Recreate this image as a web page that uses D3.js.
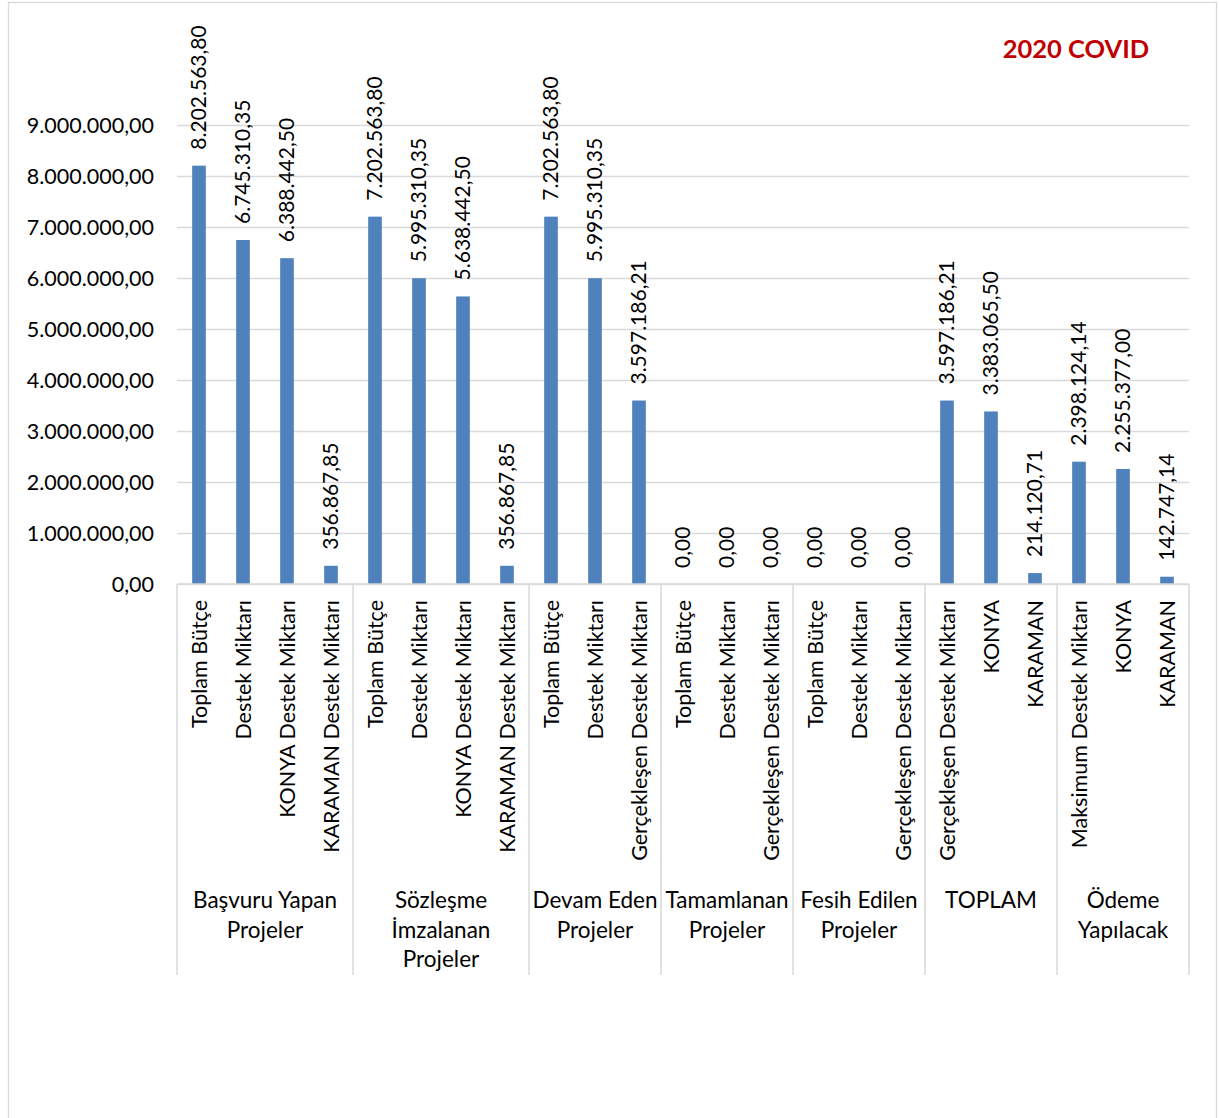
<!DOCTYPE html>
<html>
<head>
<meta charset="utf-8">
<script src="https://cdn.jsdelivr.net/npm/d3@7"></script>
<style>
  html, body { margin: 0; padding: 0; background: #fff; }
  svg { display: block; }
  text { font-family: Lato, "Open Sans", sans-serif; fill: #000; }
</style>
</head>
<body>
<svg id="chart" width="1219" height="1118"></svg>
<script>
// Group headings (second axis level) and how many bars each holds
const groupNames = [
  ["Başvuru Yapan", "Projeler"],
  ["Sözleşme", "İmzalanan", "Projeler"],
  ["Devam Eden", "Projeler"],
  ["Tamamlanan", "Projeler"],
  ["Fesih Edilen", "Projeler"],
  ["TOPLAM"],
  ["Ödeme", "Yapılacak"]
];
const groupSizes = [4, 4, 3, 3, 3, 3, 3];

// Bar labels (first axis level)
const categoryLabels = [
  "Toplam Bütçe", "Destek Miktarı", "KONYA Destek Miktarı", "KARAMAN Destek Miktarı",
  "Toplam Bütçe", "Destek Miktarı", "KONYA Destek Miktarı", "KARAMAN Destek Miktarı",
  "Toplam Bütçe", "Destek Miktarı", "Gerçekleşen Destek Miktarı",
  "Toplam Bütçe", "Destek Miktarı", "Gerçekleşen Destek Miktarı",
  "Toplam Bütçe", "Destek Miktarı", "Gerçekleşen Destek Miktarı",
  "Gerçekleşen Destek Miktarı", "KONYA", "KARAMAN",
  "Maksimum Destek Miktarı", "KONYA", "KARAMAN"
];

// Amounts (TL)
const values = [
  8202563.80, 6745310.35, 6388442.50, 356867.85,
  7202563.80, 5995310.35, 5638442.50, 356867.85,
  7202563.80, 5995310.35, 3597186.21,
  0.00, 0.00, 0.00,
  0.00, 0.00, 0.00,
  3597186.21, 3383065.50, 214120.71,
  2398124.14, 2255377.00, 142747.14
];

const yTicks = [0, 1e6, 2e6, 3e6, 4e6, 5e6, 6e6, 7e6, 8e6, 9e6];
const chartTitle = "2020 COVID";

// Turkish number format: 1.234.567,89
const trLocale = d3.formatLocale({ decimal: ",", thousands: ".", grouping: [3], currency: ["", " TL"] });
const fmt = trLocale.format(",.2f");

const svg = d3.select("#chart");
const W = 1219, H = 1118;

// outer frame
svg.append("rect")
  .attr("x", 8.5).attr("y", 2.5)
  .attr("width", 1208).attr("height", H + 10)
  .attr("fill", "none").attr("stroke", "#d9d9d9").attr("stroke-width", 1.3);

const plot = { left: 177, right: 1189, top: 125, bottom: 584 };
const gridColor = "#d9d9d9";

const x = d3.scaleBand()
  .domain(d3.range(values.length))
  .range([plot.left, plot.right])
  .paddingInner(0).paddingOuter(0);

const y = d3.scaleLinear()
  .domain([0, 9e6])
  .range([plot.bottom, plot.top]);

// y axis: gridlines + labels
const yAxis = d3.axisLeft(y)
  .tickValues(yTicks)
  .tickSize(-(plot.right - plot.left))
  .tickPadding(23)
  .tickFormat(fmt);

const gy = svg.append("g")
  .attr("transform", `translate(${plot.left},0)`)
  .call(yAxis);
gy.select(".domain").remove();
gy.selectAll(".tick line").attr("stroke", gridColor).attr("stroke-width", 1.5);
gy.selectAll(".tick text")
  .style("font-size", "21.5px")
  .attr("fill", "#000")
  .attr("dy", "0.36em");

// bars
const barW = x.bandwidth() * 0.31;
svg.append("g").selectAll("rect")
  .data(values)
  .join("rect")
  .attr("x", (d, i) => x(i) + (x.bandwidth() - barW) / 2)
  .attr("y", d => y(d))
  .attr("width", barW)
  .attr("height", d => y(0) - y(d))
  .attr("fill", "#4f81bd");

// value labels, rotated, above each bar
svg.append("g").selectAll("text")
  .data(values)
  .join("text")
  .attr("transform", (d, i) => `translate(${x(i) + x.bandwidth() / 2 + 7},${y(d) - 16}) rotate(-90)`)
  .attr("text-anchor", "start")
  .style("font-size", "21px")
  .text(d => fmt(d));

// category axis line
svg.append("line")
  .attr("x1", plot.left).attr("x2", plot.right)
  .attr("y1", plot.bottom).attr("y2", plot.bottom)
  .attr("stroke", gridColor).attr("stroke-width", 1.5);

// group boundaries
let start = 0;
const bounds = [0];
groupSizes.forEach(n => { start += n; bounds.push(start); });
svg.append("g").selectAll("line")
  .data(bounds)
  .join("line")
  .attr("x1", b => b < values.length ? x(b) : plot.right)
  .attr("x2", b => b < values.length ? x(b) : plot.right)
  .attr("y1", plot.bottom).attr("y2", 975)
  .attr("stroke", gridColor).attr("stroke-width", 1.5);

// category labels (rotated)
svg.append("g").selectAll("text")
  .data(categoryLabels)
  .join("text")
  .attr("transform", (d, i) => `translate(${x(i) + x.bandwidth() / 2 + 7.5},600) rotate(-90)`)
  .attr("text-anchor", "end")
  .style("font-size", "21.5px")
  .text(d => d);

// group labels
const gl = svg.append("g").selectAll("text")
  .data(groupNames)
  .join("text")
  .attr("text-anchor", "middle")
  .style("font-size", "22.5px")
  .attr("x", (d, gi) => {
    const a = x(bounds[gi]);
    const b = bounds[gi + 1] < values.length ? x(bounds[gi + 1]) : plot.right;
    return (a + b) / 2;
  })
  .attr("y", 908);
gl.selectAll("tspan")
  .data((d, gi) => d.map(line => ({ line, gi })))
  .join("tspan")
  .attr("x", function () { return d3.select(this.parentNode).attr("x"); })
  .attr("dy", (d, k) => k === 0 ? 0 : 29.5)
  .text(d => d.line);

// title
svg.append("text")
  .attr("x", 1076).attr("y", 58)
  .attr("text-anchor", "middle")
  .style("font-size", "25.5px")
  .style("font-weight", "bold")
  .style("fill", "#c00000")
  .text(chartTitle);
</script>
</body>
</html>
